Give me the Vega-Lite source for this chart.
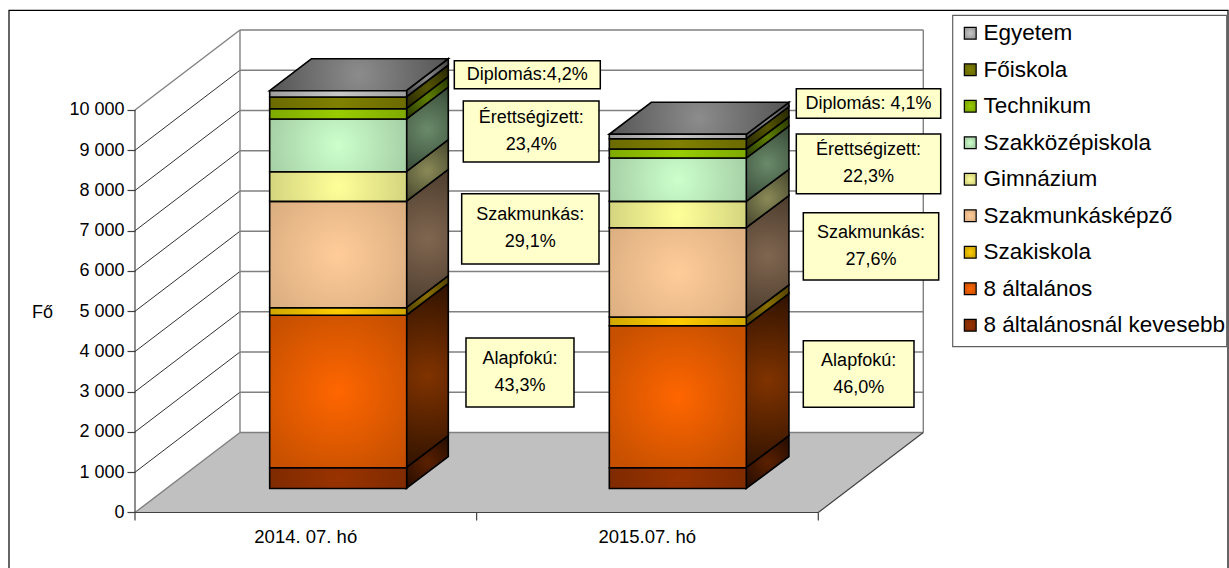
{
"$schema":"https://vega.github.io/schema/vega-lite/v6.json",
"width":1229,"height":568,"padding":0,"autosize":{"type":"none"},"background":"white",
"config":{"font":"Liberation Sans","view":{"stroke":null}},
"datasets":{
"oszlopok":[
{"honap":"2014. 07. hó","kepzes":"8 általánosnál kevesebb","sor":1,"fo":517},
{"honap":"2014. 07. hó","kepzes":"8 általános","sor":2,"fo":3786},
{"honap":"2014. 07. hó","kepzes":"Szakiskola","sor":3,"fo":189},
{"honap":"2014. 07. hó","kepzes":"Szakmunkásképző","sor":4,"fo":2643},
{"honap":"2014. 07. hó","kepzes":"Gimnázium","sor":5,"fo":736},
{"honap":"2014. 07. hó","kepzes":"Szakközépiskola","sor":6,"fo":1309},
{"honap":"2014. 07. hó","kepzes":"Technikum","sor":7,"fo":256},
{"honap":"2014. 07. hó","kepzes":"Főiskola","sor":8,"fo":291},
{"honap":"2014. 07. hó","kepzes":"Egyetem","sor":9,"fo":156},
{"honap":"2015.07. hó","kepzes":"8 általánosnál kevesebb","sor":1,"fo":517},
{"honap":"2015.07. hó","kepzes":"8 általános","sor":2,"fo":3528},
{"honap":"2015.07. hó","kepzes":"Szakiskola","sor":3,"fo":216},
{"honap":"2015.07. hó","kepzes":"Szakmunkásképző","sor":4,"fo":2219},
{"honap":"2015.07. hó","kepzes":"Gimnázium","sor":5,"fo":655},
{"honap":"2015.07. hó","kepzes":"Szakközépiskola","sor":6,"fo":1076},
{"honap":"2015.07. hó","kepzes":"Technikum","sor":7,"fo":224},
{"honap":"2015.07. hó","kepzes":"Főiskola","sor":8,"fo":256},
{"honap":"2015.07. hó","kepzes":"Egyetem","sor":9,"fo":109}
],
"oldallapok":[
{"honap":"2014","kepzes":"8 általánosnál kevesebb","x":0.794,"a":596,"f":1113},{"honap":"2014","kepzes":"8 általánosnál kevesebb","x":0.917,"a":1391,"f":1908},
{"honap":"2014","kepzes":"8 általános","x":0.794,"a":1113,"f":4899},{"honap":"2014","kepzes":"8 általános","x":0.917,"a":1908,"f":5694},
{"honap":"2014","kepzes":"Szakiskola","x":0.794,"a":4899,"f":5088},{"honap":"2014","kepzes":"Szakiskola","x":0.917,"a":5694,"f":5883},
{"honap":"2014","kepzes":"Szakmunkásképző","x":0.794,"a":5088,"f":7731},{"honap":"2014","kepzes":"Szakmunkásképző","x":0.917,"a":5883,"f":8526},
{"honap":"2014","kepzes":"Gimnázium","x":0.794,"a":7731,"f":8467},{"honap":"2014","kepzes":"Gimnázium","x":0.917,"a":8526,"f":9262},
{"honap":"2014","kepzes":"Szakközépiskola","x":0.794,"a":8467,"f":9776},{"honap":"2014","kepzes":"Szakközépiskola","x":0.917,"a":9262,"f":10571},
{"honap":"2014","kepzes":"Technikum","x":0.794,"a":9776,"f":10032},{"honap":"2014","kepzes":"Technikum","x":0.917,"a":10571,"f":10827},
{"honap":"2014","kepzes":"Főiskola","x":0.794,"a":10032,"f":10323},{"honap":"2014","kepzes":"Főiskola","x":0.917,"a":10827,"f":11118},
{"honap":"2014","kepzes":"Egyetem","x":0.794,"a":10323,"f":10479},{"honap":"2014","kepzes":"Egyetem","x":0.917,"a":11118,"f":11274},
{"honap":"2015","kepzes":"8 általánosnál kevesebb","x":1.789,"a":596,"f":1113},{"honap":"2015","kepzes":"8 általánosnál kevesebb","x":1.914,"a":1391,"f":1908},
{"honap":"2015","kepzes":"8 általános","x":1.789,"a":1113,"f":4641},{"honap":"2015","kepzes":"8 általános","x":1.914,"a":1908,"f":5436},
{"honap":"2015","kepzes":"Szakiskola","x":1.789,"a":4641,"f":4857},{"honap":"2015","kepzes":"Szakiskola","x":1.914,"a":5436,"f":5652},
{"honap":"2015","kepzes":"Szakmunkásképző","x":1.789,"a":4857,"f":7076},{"honap":"2015","kepzes":"Szakmunkásképző","x":1.914,"a":5652,"f":7871},
{"honap":"2015","kepzes":"Gimnázium","x":1.789,"a":7076,"f":7731},{"honap":"2015","kepzes":"Gimnázium","x":1.914,"a":7871,"f":8526},
{"honap":"2015","kepzes":"Szakközépiskola","x":1.789,"a":7731,"f":8807},{"honap":"2015","kepzes":"Szakközépiskola","x":1.914,"a":8526,"f":9602},
{"honap":"2015","kepzes":"Technikum","x":1.789,"a":8807,"f":9031},{"honap":"2015","kepzes":"Technikum","x":1.914,"a":9602,"f":9826},
{"honap":"2015","kepzes":"Főiskola","x":1.789,"a":9031,"f":9287},{"honap":"2015","kepzes":"Főiskola","x":1.914,"a":9826,"f":10082},
{"honap":"2015","kepzes":"Egyetem","x":1.789,"a":9287,"f":9396},{"honap":"2015","kepzes":"Egyetem","x":1.914,"a":10082,"f":10191}
],
"fedlapok":[
{"honap":"2014","y":10479,"x":0.394,"x2":0.794},{"honap":"2014","y":11274,"x":0.517,"x2":0.917},
{"honap":"2015","y":9396,"x":1.388,"x2":1.789},{"honap":"2015","y":10191,"x":1.511,"x2":1.914}
],
"padlo":[{"y":0,"x":0,"x2":2},{"y":1988,"x":0.3073,"x2":2.3073}],
"oldalfal":[
{"v":1000,"x":0,"x2":0.3073,"y":1000,"y2":2988},{"v":2000,"x":0,"x2":0.3073,"y":2000,"y2":3988},
{"v":3000,"x":0,"x2":0.3073,"y":3000,"y2":4988},{"v":4000,"x":0,"x2":0.3073,"y":4000,"y2":5988},
{"v":5000,"x":0,"x2":0.3073,"y":5000,"y2":6988},{"v":6000,"x":0,"x2":0.3073,"y":6000,"y2":7988},
{"v":7000,"x":0,"x2":0.3073,"y":7000,"y2":8988},{"v":8000,"x":0,"x2":0.3073,"y":8000,"y2":9988},
{"v":9000,"x":0,"x2":0.3073,"y":9000,"y2":10988}
],
"hatsofal":[
{"y":2988},{"y":3988},{"y":4988},{"y":5988},{"y":6988},{"y":7988},{"y":8988},{"y":9988},{"y":10988},{"y":11988}
],
"keret":[
{"x":0,"x2":0.3073,"y":10000,"y2":11988},
{"x":0,"x2":0.3073,"y":0,"y2":1988},
{"x":0.3073,"x2":0.3073,"y":1988,"y2":11988},
{"x":2.3073,"x2":2.3073,"y":1988,"y2":11988},
{"x":0.3073,"x2":2.3073,"y":1988,"y2":1988}
],
"tengely":[
{"x":0,"x2":0,"y":-200,"y2":10000},
{"x":0,"x2":2,"y":0,"y2":0},
{"x":1,"x2":1,"y":-200,"y2":0},
{"x":2,"x2":2,"y":-200,"y2":0},
{"x":2,"x2":2.3073,"y":0,"y2":1988}
],
"abra":[{"x":-0.3688,"x2":3.1992,"y":12477,"y2":-1677}],
"jelmagyarazat":[{"x":2.3934,"x2":3.1954,"y":12353,"y2":4119}],
"cimkek":[
{"szoveg":"Diplomás:4,2%","x":0.9346,"x2":1.3619,"y":11225,"y2":10529,"xk":1.148,"yk":10877},
{"szoveg":"Érettségizett:\n23,4%","x":0.9609,"x2":1.3581,"y":10224,"y2":8708,"xk":1.1595,"yk":9801},
{"szoveg":"Szakmunkás:\n29,1%","x":0.9562,"x2":1.3581,"y":7920,"y2":6174,"xk":1.157,"yk":7382},
{"szoveg":"Alapfokú:\n43,3%","x":0.9688,"x2":1.2849,"y":4335,"y2":2621,"xk":1.1268,"yk":3813},
{"szoveg":"Diplomás: 4,1%","x":1.9356,"x2":2.3583,"y":10529,"y2":9794,"xk":2.147,"yk":10161},
{"szoveg":"Érettségizett:\n22,3%","x":1.9356,"x2":2.3583,"y":9404,"y2":7920,"xk":2.147,"yk":8997},
{"szoveg":"Szakmunkás:\n27,6%","x":1.9561,"x2":2.3524,"y":7448,"y2":5776,"xk":2.1542,"yk":6947},
{"szoveg":"Alapfokú:\n46,0%","x":1.9561,"x2":2.2801,"y":4268,"y2":2614,"xk":2.1181,"yk":3776}
],
"honapok":[{"honap":"2014. 07. hó"},{"honap":"2015.07. hó"}]
},
"resolve":{"scale":{"x":"independent","y":"independent","fill":"independent"},"axis":{"x":"independent","y":"independent"}},
"layer":[
{
"layer":[
{"data":{"name":"abra"},"mark":{"type":"rect","fill":null,"stroke":"#000000","strokeWidth":1.2},
"encoding":{"x":{"field":"x","type":"quantitative","axis":null,"scale":{"domain":[-0.39514,3.20211],"nice":false,"zero":false}},"x2":{"field":"x2"},
"y":{"field":"y","type":"quantitative","scale":{"domain":[-1378.9,12732.9],"nice":false,"zero":false},
"axis":{"orient":"left","values":[0,1000,2000,3000,4000,5000,6000,7000,8000,9000,10000],"offset":-135,"domain":false,"grid":false,"tickSize":8,"tickColor":"#404040","tickWidth":1.2,"labelFontSize":18,"labelColor":"#000000","labelPadding":3,"labelExpr":"replace(format(datum.value,','),',',' ')","title":"Fő","titleAngle":0,"titleX":-93,"titleY":312,"titleAlign":"center","titleBaseline":"middle","titleFontSize":18,"titleFontWeight":"normal","titleColor":"#000000"}},"y2":{"field":"y2"}}},
{"data":{"name":"padlo"},"mark":{"type":"area","orient":"horizontal","color":"#C0C0C0"},
"encoding":{"y":{"field":"y","type":"quantitative"},"x":{"field":"x","type":"quantitative"},"x2":{"field":"x2"}}},
{"data":{"name":"hatsofal"},"mark":{"type":"rule","color":"#808080","strokeWidth":1.3},
"encoding":{"y":{"field":"y","type":"quantitative"},"x":{"datum":0.3073,"type":"quantitative"},"x2":{"datum":2.3073}}},
{"data":{"name":"oldalfal"},"mark":{"type":"rule","color":"#1a1a1a","strokeWidth":0.9},
"encoding":{"x":{"field":"x","type":"quantitative"},"x2":{"field":"x2"},"y":{"field":"y","type":"quantitative"},"y2":{"field":"y2"}}},
{"data":{"name":"keret"},"mark":{"type":"rule","color":"#808080","strokeWidth":1.4},
"encoding":{"x":{"field":"x","type":"quantitative"},"x2":{"field":"x2"},"y":{"field":"y","type":"quantitative"},"y2":{"field":"y2"}}},
{"data":{"name":"tengely"},"mark":{"type":"rule","color":"#404040","strokeWidth":1.2},
"encoding":{"x":{"field":"x","type":"quantitative"},"x2":{"field":"x2"},"y":{"field":"y","type":"quantitative"},"y2":{"field":"y2"}}},
{"data":{"name":"oldallapok"},"mark":{"type":"area","orient":"vertical","stroke":"#000000","strokeWidth":1.6},
"encoding":{"x":{"field":"x","type":"quantitative"},"y":{"field":"f","type":"quantitative"},"y2":{"field":"a"},"detail":{"field":"honap"},
"fill":{"field":"kepzes","type":"nominal","legend":null,"scale":{"domain":["Egyetem","Főiskola","Technikum","Szakközépiskola","Gimnázium","Szakmunkásképző","Szakiskola","8 általános","8 általánosnál kevesebb"],
"range":[
{"expr":"{gradient:'radial',x1:0.5,y1:0.5,r1:0,x2:0.5,y2:0.5,r2:0.6,stops:[{offset:0,color:'#8a8a8a'},{offset:1,color:'#4a4a4a'}]}"},
{"expr":"{gradient:'radial',x1:0.5,y1:0.5,r1:0,x2:0.5,y2:0.5,r2:0.6,stops:[{offset:0,color:'#555500'},{offset:1,color:'#2b2b00'}]}"},
{"expr":"{gradient:'radial',x1:0.5,y1:0.5,r1:0,x2:0.5,y2:0.5,r2:0.6,stops:[{offset:0,color:'#5f8000'},{offset:1,color:'#2f4000'}]}"},
{"expr":"{gradient:'radial',x1:0.5,y1:0.5,r1:0,x2:0.5,y2:0.5,r2:0.6,stops:[{offset:0,color:'#6a8a6a'},{offset:1,color:'#334433'}]}"},
{"expr":"{gradient:'radial',x1:0.5,y1:0.5,r1:0,x2:0.5,y2:0.5,r2:0.6,stops:[{offset:0,color:'#8a8a58'},{offset:1,color:'#44442c'}]}"},
{"expr":"{gradient:'radial',x1:0.5,y1:0.5,r1:0,x2:0.5,y2:0.5,r2:0.6,stops:[{offset:0,color:'#806650'},{offset:1,color:'#443628'}]}"},
{"expr":"{gradient:'radial',x1:0.5,y1:0.5,r1:0,x2:0.5,y2:0.5,r2:0.6,stops:[{offset:0,color:'#8a7000'},{offset:1,color:'#554400'}]}"},
{"expr":"{gradient:'radial',x1:0.5,y1:0.5,r1:0,x2:0.5,y2:0.5,r2:0.55,stops:[{offset:0,color:'#803300'},{offset:1,color:'#2a1000'}]}"},
{"expr":"{gradient:'radial',x1:0.5,y1:0.5,r1:0,x2:0.5,y2:0.5,r2:0.55,stops:[{offset:0,color:'#5a2000'},{offset:1,color:'#2a0e00'}]}"}
]}}}},
{"data":{"name":"fedlapok"},"mark":{"type":"area","orient":"horizontal","stroke":"#000000","strokeWidth":1.6,
"fill":{"expr":"{gradient:'radial',x1:0.5,y1:0.5,r1:0,x2:0.5,y2:0.5,r2:0.5,stops:[{offset:0,color:'#8c8c8c'},{offset:1,color:'#555555'}]}"}},
"encoding":{"y":{"field":"y","type":"quantitative"},"x":{"field":"x","type":"quantitative"},"x2":{"field":"x2"},"detail":{"field":"honap"}}}
]
},
{"data":{"name":"honapok"},"mark":{"type":"rule","opacity":0},
"encoding":{"x":{"field":"honap","type":"nominal","sort":null,"scale":{"domain":["2014. 07. hó","2015.07. hó"],"range":[135,818],"paddingInner":0,"paddingOuter":0},
"axis":{"orient":"bottom","title":null,"offset":-56,"domain":false,"ticks":false,"labelAngle":0,"labelFontSize":18.5,"labelColor":"#000000","labelPadding":15}}}},
{"data":{"name":"oszlopok"},"mark":{"type":"bar","stroke":"#000000","strokeWidth":1.6},
"encoding":{"x":{"field":"honap","type":"nominal","axis":null,"scale":{"domain":["2014. 07. hó","2015.07. hó"],"range":[167.8,848.2],"paddingInner":0.5966,"paddingOuter":0.3}},
"y":{"field":"fo","type":"quantitative","stack":"zero","axis":null,"scale":{"domain":[-1975,12137],"nice":false,"zero":false}},
"order":{"field":"sor","type":"ordinal"},
"fill":{"field":"kepzes","type":"nominal","scale":{"domain":["Egyetem","Főiskola","Technikum","Szakközépiskola","Gimnázium","Szakmunkásképző","Szakiskola","8 általános","8 általánosnál kevesebb"],
"range":[
{"expr":"{gradient:'radial',x1:0.5,y1:0.5,r1:0,x2:0.5,y2:0.5,r2:0.6,stops:[{offset:0,color:'#C8C8C8'},{offset:1,color:'#969696'}]}"},
{"expr":"{gradient:'radial',x1:0.5,y1:0.5,r1:0,x2:0.5,y2:0.5,r2:0.6,stops:[{offset:0,color:'#808000'},{offset:1,color:'#666600'}]}"},
{"expr":"{gradient:'radial',x1:0.5,y1:0.5,r1:0,x2:0.5,y2:0.5,r2:0.6,stops:[{offset:0,color:'#99CC00'},{offset:1,color:'#7AA300'}]}"},
{"expr":"{gradient:'radial',x1:0.5,y1:0.5,r1:0,x2:0.5,y2:0.5,r2:0.6,stops:[{offset:0,color:'#CCFFCC'},{offset:1,color:'#A0C8A0'}]}"},
{"expr":"{gradient:'radial',x1:0.5,y1:0.5,r1:0,x2:0.5,y2:0.5,r2:0.6,stops:[{offset:0,color:'#FFFF99'},{offset:1,color:'#CCCC7A'}]}"},
{"expr":"{gradient:'radial',x1:0.5,y1:0.5,r1:0,x2:0.5,y2:0.5,r2:0.6,stops:[{offset:0,color:'#FFCC99'},{offset:1,color:'#DBAE80'}]}"},
{"expr":"{gradient:'radial',x1:0.5,y1:0.5,r1:0,x2:0.5,y2:0.5,r2:0.6,stops:[{offset:0,color:'#FFCC00'},{offset:1,color:'#C7A000'}]}"},
{"expr":"{gradient:'radial',x1:0.5,y1:0.5,r1:0,x2:0.5,y2:0.5,r2:0.6,stops:[{offset:0,color:'#FF6600'},{offset:1,color:'#C75000'}]}"},
{"expr":"{gradient:'radial',x1:0.5,y1:0.5,r1:0,x2:0.5,y2:0.5,r2:0.6,stops:[{offset:0,color:'#993300'},{offset:1,color:'#7A2900'}]}"}
]},
"legend":{"orient":"none","legendX":959,"legendY":22,"title":null,"padding":0,"symbolType":"square","symbolSize":140,"symbolStrokeColor":"#000000","symbolStrokeWidth":1.2,"labelFontSize":22.5,"labelColor":"#000000","labelOffset":2,"rowPadding":13.5,"labelLimit":300}}}},
{
"layer":[
{"data":{"name":"jelmagyarazat"},"mark":{"type":"rect","fill":"#FFFFFF","stroke":"#606060","strokeWidth":1.2},
"encoding":{"x":{"field":"x","type":"quantitative","axis":null,"scale":{"domain":[-0.39514,3.20211],"nice":false,"zero":false}},"x2":{"field":"x2"},
"y":{"field":"y","type":"quantitative","axis":null,"scale":{"domain":[-1378.9,12732.9],"nice":false,"zero":false}},"y2":{"field":"y2"}}},
{"data":{"name":"cimkek"},"mark":{"type":"rect","fill":"#FFFFCC","stroke":"#000000","strokeWidth":1.5},
"encoding":{"x":{"field":"x","type":"quantitative"},"x2":{"field":"x2"},"y":{"field":"y","type":"quantitative"},"y2":{"field":"y2"}}},
{"data":{"name":"cimkek"},"mark":{"type":"text","fontSize":18,"color":"#000000","lineBreak":"\n","lineHeight":27,"align":"center","baseline":"middle"},
"encoding":{"x":{"field":"xk","type":"quantitative"},"y":{"field":"yk","type":"quantitative"},"text":{"field":"szoveg"}}}
]
}
]
}
